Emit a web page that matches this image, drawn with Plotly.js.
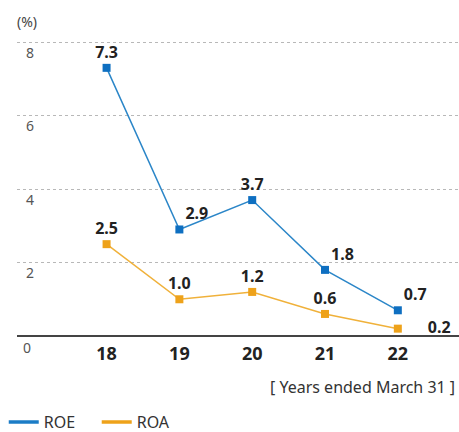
<!DOCTYPE html>
<html>
<head>
<meta charset="utf-8">
<script src="https://cdn.plot.ly/plotly-3.0.1.min.js"></script>
<style>html,body{margin:0;padding:0;background:#fff;}#chart{width:459px;height:432px;}</style>
</head>
<body>
<div id="chart"></div>
<script>
const years = [18, 19, 20, 21, 22];
const yearLabels = ["18", "19", "20", "21", "22"];
const roe = [7.3, 2.9, 3.7, 1.8, 0.7];
const roa = [2.5, 1.0, 1.2, 0.6, 0.2];
const roeLabelPos = ["top center", "top right", "top center", "top right", "top right"];
const roaLabelPos = ["top center", "top center", "top center", "top center", "middle right"];
const yTicks = [2, 4, 6, 8];
const yZeroLabel = "0";

const roeColor = "#1b7cc6", roeMarker = "#0e6fc1";
const roaColor = "#f0b13a", roaMarker = "#eea21a";
const labelFont = {family: "Noto Sans, sans-serif", size: 16, color: "#222", weight: "bold"};
const fmt = (v, pos) => (pos === "middle right" ? "\u2002\u2002\u2002" : "") + v.toFixed(1);
const pad = "\u00a0\u00a0\u00a0\u00a0";

const traces = [
  {
    x: years, y: roe, name: "ROE", mode: "lines+markers+text", showlegend: false,
    text: roe.map((v, i) => fmt(v, roeLabelPos[i])), textposition: roeLabelPos,
    textfont: labelFont,
    line: {color: "#2b86c8", width: 1.5},
    marker: {symbol: "square", size: 8, color: roeMarker},
    cliponaxis: false
  },
  {
    x: years, y: roa, name: "ROA", mode: "lines+markers+text", showlegend: false,
    text: roa.map((v, i) => fmt(v, roaLabelPos[i])), textposition: roaLabelPos,
    textfont: labelFont,
    line: {color: roaColor, width: 1.5},
    marker: {symbol: "square", size: 8, color: roaMarker},
    cliponaxis: false
  },
  {x: [null], y: [null], name: "ROE" + pad, mode: "lines", line: {color: roeColor, width: 3.5}},
  {x: [null], y: [null], name: "ROA", mode: "lines", line: {color: roaMarker, width: 3.5}}
];

const layout = {
  width: 459, height: 432,
  margin: {l: 17, r: 0, t: 30, b: 96, autoexpand: false},
  paper_bgcolor: "#fff", plot_bgcolor: "#fff",
  font: {family: "Noto Sans, sans-serif", color: "#333"},
  showlegend: true,
  legend: {orientation: "h", x: -0.03, xanchor: "left", yref: "container", y: 0.023, yanchor: "middle",
           font: {size: 16, color: "#333"}, itemwidth: 30, tracegroupgap: 0},
  xaxis: {
    range: [16.77, 22.84], tickvals: years, ticktext: yearLabels,
    showgrid: false, zeroline: false, showline: false, ticks: "",
    tickfont: {size: 18, color: "#222", weight: "bold"}, ticklabelstandoff: 5
  },
  yaxis: {
    range: [0, 8.33], tickvals: yTicks, ticktext: yTicks.map(String),
    ticklabelposition: "inside", ticklabelshift: 11, ticklabelstandoff: 6,
    showgrid: true, gridcolor: "#b8b8b8", griddash: "dot", gridwidth: 1,
    zeroline: true, zerolinecolor: "#444", zerolinewidth: 1.5,
    showline: false, ticks: "",
    tickfont: {size: 14, color: "#555"}
  },
  annotations: [
    {text: "(%)", xref: "paper", yref: "paper", x: -0.005, y: 1.0, xanchor: "left", yanchor: "bottom",
     yshift: -3, showarrow: false, font: {size: 14, color: "#444"}},
    {text: yZeroLabel, xref: "paper", yref: "y", x: 0.0, y: 0, xanchor: "left", yanchor: "middle",
     xshift: 4, yshift: -11, showarrow: false, font: {size: 14, color: "#555"}},
    {text: "[ Years ended March 31 ]", xref: "paper", yref: "paper", x: 0.995, y: -0.167, xanchor: "right",
     yanchor: "middle", showarrow: false, font: {size: 16, color: "#333"}}
  ]
};

Plotly.newPlot("chart", traces, layout, {displayModeBar: false, staticPlot: true});
</script>
</body>
</html>
